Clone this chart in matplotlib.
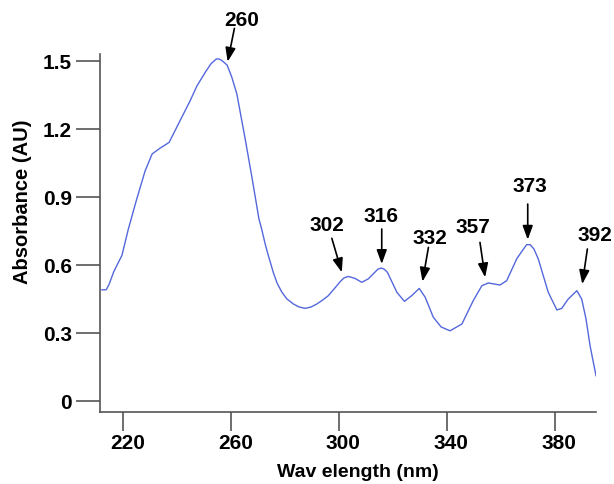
import matplotlib
matplotlib.use("Agg")
import matplotlib.pyplot as plt
from matplotlib.transforms import ScaledTranslation

plt.rcParams['font.family'] = ['Liberation Sans', 'DejaVu Sans']
plt.rcParams['font.weight'] = 'bold'

# spectrum (nm, AU)
wavelength = [212.0, 213.6, 214.7, 216.3, 217.6, 219.4, 221.8, 224.9, 228.0, 230.6,
              233.6, 236.9, 241.6, 244.7, 247.2, 250.6, 252.5, 254.4, 255.4, 256.5,
              258.4, 260.1, 262.0, 265.1, 267.7, 270.2, 271.2, 272.5, 273.7, 275.5,
              276.9, 278.7, 280.6, 283.0, 285.1, 287.3, 289.5, 291.6, 293.6, 295.9,
              298.0, 300.3, 301.7, 303.3, 305.8, 308.3, 310.7, 313.2, 314.3, 315.5,
              316.6, 317.8, 321.3, 324.1, 326.8, 329.6, 331.8, 334.8, 337.7, 341.0,
              345.4, 349.6, 352.8, 355.2, 359.5, 362.0, 365.7, 367.7, 369.4, 370.7,
              372.1, 373.7, 377.4, 380.6, 382.4, 384.8, 388.0, 389.8, 391.4, 392.9,
              395.1]
absorbance = [0.489, 0.489, 0.514, 0.566, 0.598, 0.640, 0.757, 0.889, 1.013, 1.088,
              1.114, 1.139, 1.250, 1.323, 1.388, 1.454, 1.487, 1.507, 1.507, 1.500,
              1.480, 1.428, 1.353, 1.154, 0.978, 0.801, 0.757, 0.691, 0.639, 0.566,
              0.519, 0.478, 0.448, 0.426, 0.413, 0.407, 0.413, 0.426, 0.442, 0.463,
              0.492, 0.525, 0.541, 0.548, 0.539, 0.522, 0.537, 0.567, 0.580, 0.585,
              0.580, 0.566, 0.478, 0.438, 0.463, 0.495, 0.456, 0.368, 0.325, 0.308,
              0.338, 0.441, 0.507, 0.519, 0.510, 0.529, 0.625, 0.660, 0.688, 0.688,
              0.669, 0.625, 0.478, 0.400, 0.407, 0.448, 0.485, 0.448, 0.360, 0.242,
              0.110]

# peak labels: text, label centre, arrow start, arrow tip
peak_labels = ['260', '302', '316', '332', '357', '373', '392']
label_pos = [(263.8, 1.679), (295.4, 0.777), (315.4, 0.817), (333.6, 0.720),
             (349.6, 0.770), (370.7, 0.947), (394.7, 0.731)]
arrow_start = [(261.1, 1.642), (297.2, 0.716), (315.7, 0.757), (333.0, 0.676),
               (352.1, 0.698), (369.8, 0.867), (391.9, 0.669)]
arrow_tip = [(258.6, 1.495), (300.9, 0.566), (315.7, 0.603), (330.8, 0.525),
             (354.0, 0.544), (369.8, 0.710), (390.0, 0.514)]

xticks = [220, 260, 300, 340, 380]
yticks = [0, 0.3, 0.6, 0.9, 1.2, 1.5]

fig = plt.figure(figsize=(6.14, 4.85), dpi=100)
ax = fig.add_axes([0.1629, 0.1485, 0.8078, 0.7381])

ax.plot(wavelength, absorbance, color='#5468dc', lw=1.0, solid_joinstyle='round')

for lab, tp, st, tip in zip(peak_labels, label_pos, arrow_start, arrow_tip):
    ax.annotate('', xy=tip, xytext=st,
                arrowprops=dict(arrowstyle='-|>,head_length=0.6,head_width=0.22',
                                mutation_scale=14, color='black', lw=1.2,
                                shrinkA=0, shrinkB=0))
    ax.text(tp[0], tp[1], lab, ha='center', va='center', fontsize=15,
            fontweight='bold')

ax.set_xlim(211.3, 395.1)
ax.set_ylim(-0.05, 1.529)
ax.set_xticks(xticks)
ax.set_xticklabels([str(t) for t in xticks])
ax.set_yticks(yticks)
ax.set_yticklabels(['0', '0.3', '0.6', '0.9', '1.2', '1.5'])

for s in ['top', 'right']:
    ax.spines[s].set_visible(False)
for s in ['left', 'bottom']:
    ax.spines[s].set_color('#555555')
    ax.spines[s].set_linewidth(1.2)

ax.tick_params(axis='y', length=17, width=1.2, color='#555555', pad=3,
               labelsize=15)
ax.tick_params(axis='x', length=14, width=1.2, color='#555555', pad=1,
               labelsize=15)
# x tick labels sit a little right of their ticks in the original
shift = ScaledTranslation(0.04, 0, fig.dpi_scale_trans)
for lbl in ax.get_xticklabels():
    lbl.set_transform(lbl.get_transform() + shift)

ax.set_xlabel('Wav elength (nm)', fontsize=14, fontweight='bold')
ax.xaxis.set_label_coords(0.52, -0.142)
ax.set_ylabel('Absorbance (AU)', fontsize=14.5, fontweight='bold')
ax.yaxis.set_label_coords(-0.137, 0.59)

fig.savefig('out.png', dpi=100)
